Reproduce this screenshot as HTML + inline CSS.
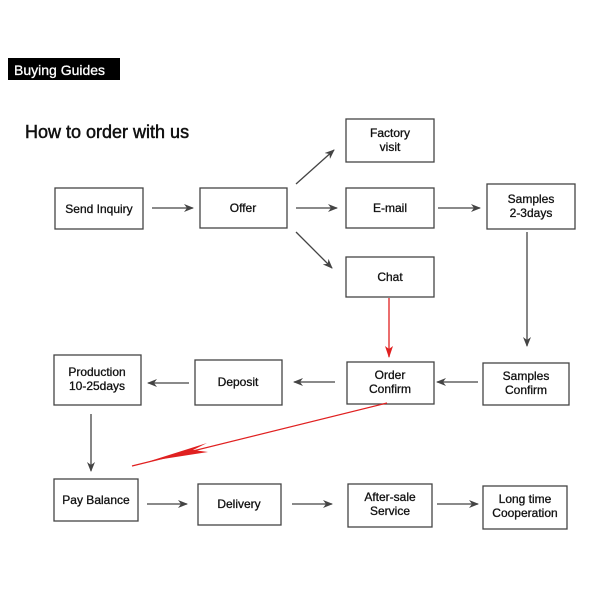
<!DOCTYPE html>
<html><head><meta charset="utf-8"><style>
html,body{margin:0;padding:0;background:#fff;}
svg{display:block;font-family:"Liberation Sans",Arial,sans-serif;}
</style></head><body>
<svg width="600" height="600" viewBox="0 0 600 600" xmlns="http://www.w3.org/2000/svg">
<defs>
<marker id="a" markerWidth="10" markerHeight="8" refX="9" refY="4" orient="auto" markerUnits="userSpaceOnUse"><path d="M0,0 L10,4 L0,8 L3,4 z" fill="#444"/></marker>
<marker id="r" markerWidth="12" markerHeight="8" refX="11" refY="4" orient="auto" markerUnits="userSpaceOnUse"><path d="M0,0 L12,4 L0,8 L3,4 z" fill="#e02020"/></marker>
</defs>
<rect x="8" y="58" width="112" height="22" fill="#000"/>
<text x="14" y="75" font-size="14" fill="#fff" stroke="#fff" stroke-width="0.3">Buying Guides</text>
<text x="25" y="138" font-size="18" fill="#111" stroke="#111" stroke-width="0.5">How to order with us</text>
<g fill="#fff" stroke="#444" stroke-width="1.3">
<rect x="55" y="188" width="88" height="41"/>
<rect x="200" y="188" width="87" height="40"/>
<rect x="346" y="119" width="88" height="43"/>
<rect x="346" y="188" width="88" height="40"/>
<rect x="346" y="257" width="88" height="40"/>
<rect x="487" y="184" width="88" height="45"/>
<rect x="54" y="355" width="87" height="50"/>
<rect x="195" y="360" width="87" height="45"/>
<rect x="347" y="362" width="87" height="42"/>
<rect x="483" y="363" width="86" height="42"/>
<rect x="54" y="479" width="84" height="42"/>
<rect x="198" y="484" width="83" height="41"/>
<rect x="348" y="484" width="84" height="43"/>
<rect x="483" y="486" width="84" height="43"/>
</g>
<g font-size="12" fill="#111" stroke="#111" stroke-width="0.3" text-anchor="middle">
<text x="99" y="213">Send Inquiry</text>
<text x="243" y="212">Offer</text>
<text x="390" y="137">Factory</text><text x="390" y="151">visit</text>
<text x="390" y="212">E-mail</text>
<text x="390" y="281">Chat</text>
<text x="531" y="203">Samples</text><text x="531" y="217">2-3days</text>
<text x="97" y="376">Production</text><text x="97" y="390">10-25days</text>
<text x="238" y="386">Deposit</text>
<text x="390" y="379">Order</text><text x="390" y="393">Confirm</text>
<text x="526" y="380">Samples</text><text x="526" y="394">Confirm</text>
<text x="96" y="504">Pay Balance</text>
<text x="239" y="508">Delivery</text>
<text x="390" y="501">After-sale</text><text x="390" y="515">Service</text>
<text x="525" y="503">Long time</text><text x="525" y="517">Cooperation</text>
</g>
<g stroke="#444" stroke-width="1.3" marker-end="url(#a)">
<line x1="152" y1="208" x2="193" y2="208"/>
<line x1="296" y1="208" x2="337" y2="208"/>
<line x1="296" y1="184" x2="334" y2="150"/>
<line x1="296" y1="232" x2="332" y2="268"/>
<line x1="438" y1="208" x2="480" y2="208"/>
<line x1="527" y1="232" x2="527" y2="346"/>
<line x1="478" y1="382" x2="437" y2="382"/>
<line x1="335" y1="382" x2="294" y2="382"/>
<line x1="189" y1="383" x2="148" y2="383"/>
<line x1="91" y1="414" x2="91" y2="471"/>
<line x1="147" y1="504" x2="187" y2="504"/>
<line x1="292" y1="504" x2="332" y2="504"/>
<line x1="437" y1="504" x2="478" y2="504"/>
</g>
<g stroke="#e02020" stroke-width="1.3">
<line x1="389" y1="298" x2="389" y2="357" marker-end="url(#r)"/>
<line x1="387" y1="403" x2="132" y2="466"/>
</g>
<polygon points="150,461 207,443 193,450 208,452" fill="#e02020"/>
</svg>
</body></html>
